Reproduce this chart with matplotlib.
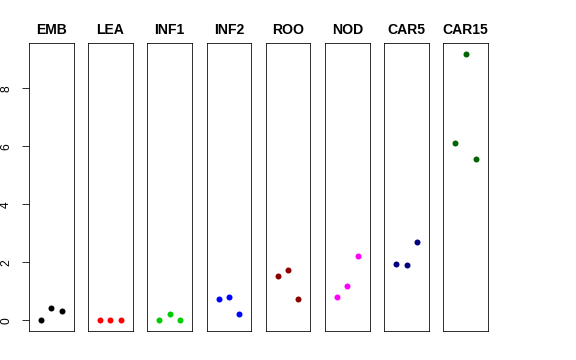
import numpy as np
import matplotlib
matplotlib.use("Agg")
import matplotlib.pyplot as plt

plt.rcParams['font.family'] = ['Liberation Sans', 'DejaVu Sans']

# tissues and their three replicate values
tissues = ['EMB', 'LEA', 'INF1', 'INF2', 'ROO', 'NOD', 'CAR5', 'CAR15']
emb = [0.0, 0.44, 0.31]
lea = [0.0, 0.0, 0.0]
inf1 = [0.0, 0.21, 0.0]
inf2 = [0.75, 0.82, 0.21]
roo = [1.54, 1.72, 0.75]
nod = [0.82, 1.18, 2.22]
car5 = [1.94, 1.91, 2.70]
car15 = [6.10, 9.18, 5.55]
values = [emb, lea, inf1, inf2, roo, nod, car5, car15]
colors = ['black', 'red', '#00CD00', 'blue', '#8B0000', 'magenta', '#000080', '#006400']
yticks = [0, 2, 4, 6, 8]

fig, axes = plt.subplots(1, 8, figsize=(8, 5), dpi=72, sharey=True)
fig.subplots_adjust(left=29/576, right=488/576, bottom=29/360, top=316.7/360, wspace=0.33)

allv = np.concatenate(values)
lo, hi = allv.min(), allv.max()
ext = (hi - lo) * 0.04

for i, ax in enumerate(axes):
    ax.plot([1, 2, 3], values[i], 'o', color=colors[i], ms=6, mec='none')
    ax.set_xlim(-0.16, 4.16)
    ax.set_ylim(lo - ext, hi + ext)
    ax.set_xticks([])
    ax.set_title(tissues[i], fontsize=14, fontweight='bold', pad=9)
    for s in ax.spines.values():
        s.set_linewidth(0.8)
    if i == 0:
        ax.set_yticks(yticks)
        ax.tick_params(axis='y', length=7, pad=10, labelsize=12, labelrotation=90)
        for lab in ax.get_yticklabels():
            lab.set_va('center')
        ax.spines['left'].set_visible(True)
    else:
        ax.tick_params(axis='y', left=False, labelleft=False)

plt.savefig('out.png', dpi=72)
